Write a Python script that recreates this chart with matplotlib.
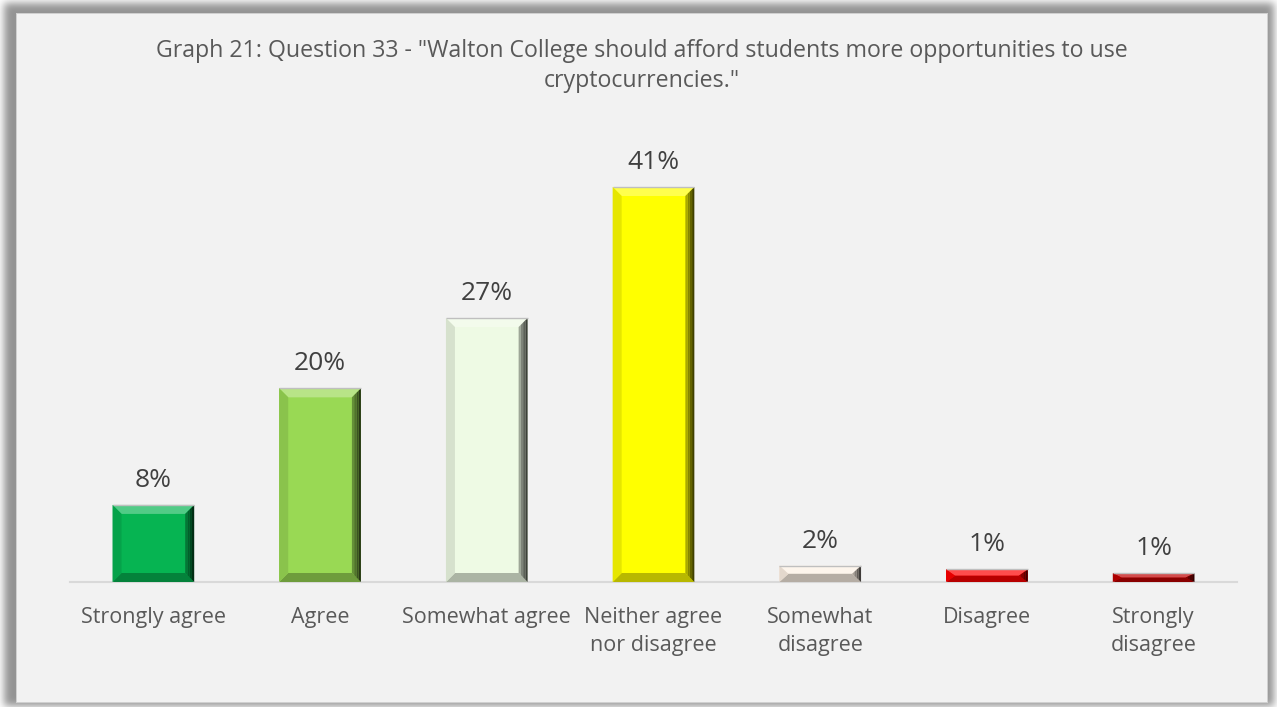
import numpy as np
import matplotlib
matplotlib.use("Agg")
import matplotlib.pyplot as plt
from matplotlib.patches import Polygon
from matplotlib.colors import to_rgb

# Survey responses (share of respondents, %)
categories = ["Strongly agree", "Agree", "Somewhat agree", "Neither agree\nnor disagree",
              "Somewhat\ndisagree", "Disagree", "Strongly\ndisagree"]
values = [8.0, 20.1, 27.4, 41.0, 1.7, 1.3, 0.9]
bar_colors = ["#06B452", "#99D954", "#EEFAE4", "#FFFF00", "#FCF0E4", "#FF0000", "#C00000"]
title_lines = ['Graph 21: Question 33 - "Walton College should afford students more opportunities to use',
               'cryptocurrencies."']

W, H = 1277, 707
FONT = "Open Sans"
fig = plt.figure(figsize=(W / 100, H / 100), dpi=100)
fig.patch.set_facecolor("white")

# ---- background: soft drop shadow around a light gray panel ----
def blur1d(a, sigma, axis):
    r = int(3 * sigma)
    k = np.exp(-0.5 * (np.arange(-r, r + 1) / sigma) ** 2)
    k /= k.sum()
    return np.apply_along_axis(lambda v: np.convolve(np.pad(v, r, mode="edge"), k, mode="valid"), axis, a)

px0, px1, py0, py1 = 16, 1268, 13, 703
mask = np.zeros((H, W))
mask[3:706, 4:1274] = 1.0
mask = blur1d(blur1d(mask, 4.0, 0), 4.0, 1)
bg = np.ones((H, W, 3)) * (1 - 0.42 * mask)[..., None]
bg[py0:py1, px0:px1] = to_rgb("#D0D0D0")
bg[py0 + 1:py1 - 1, px0 + 1:px1 - 1] = to_rgb("#F2F2F2")
bax = fig.add_axes([0, 0, 1, 1])
bax.imshow(bg, aspect="auto", interpolation="nearest")
bax.set_axis_off()

# ---- chart axes ----
ax_left, ax_right, ax_base, ax_top = 70, 1237, 582, 130
ax = fig.add_axes([ax_left / W, 1 - ax_base / H, (ax_right - ax_left) / W, (ax_base - ax_top) / H])
ax.set_facecolor("none")
x = np.arange(len(categories))
ax.set_xlim(-0.5, len(categories) - 0.5)
ymax = 41.0 * (ax_base - ax_top) / (ax_base - 187)
ax.set_ylim(0, ymax)

bw = 0.49
bars = ax.bar(x, values, width=bw, color=bar_colors, edgecolor="none", zorder=2)

def mix(c, t, amt):
    c = np.array(to_rgb(c)); t = np.array(to_rgb(t))
    return tuple(c + (t - c) * amt)

# bevel facets in data units (~9 px)
bx = 9 / ((ax_right - ax_left) / len(categories))
by_px = 9 * ymax / (ax_base - ax_top)
for rect, col in zip(bars, bar_colors):
    x0, x1 = rect.get_x(), rect.get_x() + rect.get_width()
    y0, y1 = 0, rect.get_height()
    by = min(by_px, (y1 - y0) / 2)
    top = [(x0, y1), (x1, y1), (x1 - bx, y1 - by), (x0 + bx, y1 - by)]
    bottom = [(x0, y0), (x1, y0), (x1 - bx, y0 + by), (x0 + bx, y0 + by)]
    left = [(x0, y0), (x0, y1), (x0 + bx, y1 - by), (x0 + bx, y0 + by)]
    ax.add_patch(Polygon(top, closed=True, fc=mix(col, "white", 0.3), ec="none", zorder=3))
    ax.add_patch(Polygon(bottom, closed=True, fc=mix(col, "black", 0.28), ec="none", zorder=3))
    ax.add_patch(Polygon(left, closed=True, fc=mix(col, "black", 0.1), ec="none", zorder=3))
    # right facet shaded in bands toward a dark outer edge
    nb = 4
    for i in range(nb):
        f0, f1 = i / nb, (i + 1) / nb
        xa, xb = x1 - bx * (1 - f0), x1 - bx * (1 - f1)
        ya, yb = by * (1 - f0), by * (1 - f1)
        poly = [(xa, y0 + ya), (xa, y1 - ya), (xb, y1 - yb), (xb, y0 + yb)]
        ax.add_patch(Polygon(poly, closed=True, fc=mix(col, "black", 0.2 + 0.55 * f1), ec="none", zorder=3))
    ax.plot([x0, x1], [y1, y1], color="#BFBFBF", lw=1.0, zorder=4, solid_capstyle="butt")
    ax.annotate(f"{rect.get_height():.0f}%", (rect.get_x() + rect.get_width() / 2, y1),
                xytext=(0, 13), textcoords="offset points", ha="center", va="baseline",
                fontsize=19, color="#404040", family=FONT)

for s in ["left", "right", "top"]:
    ax.spines[s].set_visible(False)
ax.spines["bottom"].set_color("#D9D9D9")
ax.spines["bottom"].set_linewidth(1.5)
ax.set_yticks([])
ax.set_xticks(x)
ax.set_xticklabels(categories, fontsize=15.5, color="#595959", family=FONT, linespacing=1.45)
ax.tick_params(axis="x", length=0, pad=18)

for line, yb in zip(title_lines, [57, 87]):
    fig.text(642 / W, 1 - yb / H, line, ha="center", va="baseline", fontsize=16.7,
             color="#595959", family=FONT)

fig.savefig("out.png", dpi=100, facecolor=fig.get_facecolor())
